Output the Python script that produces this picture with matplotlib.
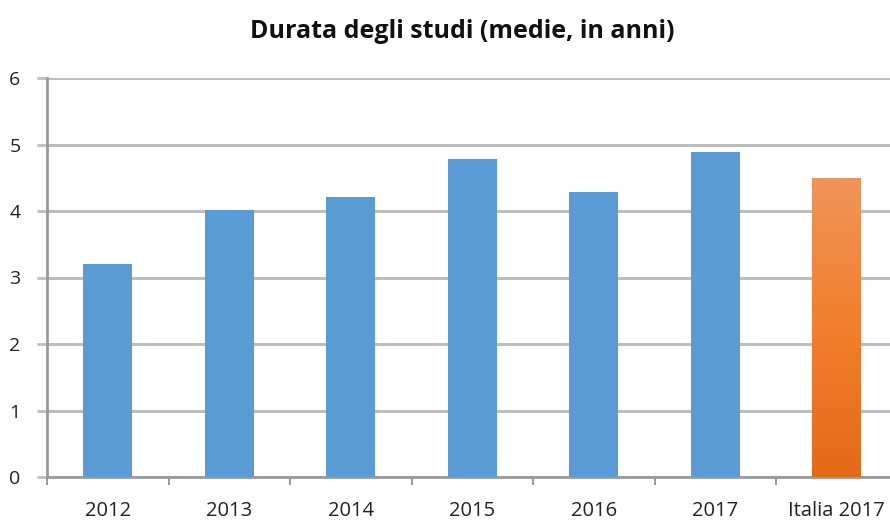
import numpy as np
import matplotlib.pyplot as plt
from matplotlib.colors import LinearSegmentedColormap

# data
categories = ["2012", "2013", "2014", "2015", "2016", "2017", "Italia 2017"]
values = [3.2, 4.01, 4.21, 4.78, 4.28, 4.88, 4.5]
bar_colors = ["#5B9BD5"] * 6 + ["#F07D2A"]
y_ticks = [0, 1, 2, 3, 4, 5, 6]

plt.rcParams['font.family'] = ['Open Sans', 'DejaVu Sans']

fig = plt.figure(figsize=(8.9, 5.2), dpi=100)
ax = fig.add_axes([47 / 890, 1 - 477 / 520, 850.5 / 890, (477 - 78) / 520])

x = np.arange(len(categories))
bars = ax.bar(x, values, width=0.4, color=bar_colors, zorder=3)

# orange bar gets a vertical gradient
orange = LinearSegmentedColormap.from_list("og", ["#E36A17", "#F27F2C", "#F0945A"])
last = bars[-1]
grad = np.linspace(0, 1, 256).reshape(-1, 1)
x0, w = last.get_x(), last.get_width()
im = ax.imshow(grad, cmap=orange, origin='lower', aspect='auto',
               extent=[x0, x0 + w, 0, values[-1]], zorder=4)
im.set_clip_path(last)

ax.set_xlim(-0.5, len(categories) - 0.5)
ax.set_ylim(0, 6)
ax.set_yticks(y_ticks)
ax.set_yticklabels([str(t) for t in y_ticks], fontsize=14, color="#222222")

# category labels centered, tick marks at boundaries
ax.set_xticks(x)
ax.set_xticklabels(categories, fontsize=14.5, color="#222222")
ax.tick_params(axis='x', length=0, pad=17)
ax.set_xticks(np.arange(len(categories) + 1) - 0.5, minor=True)
ax.tick_params(axis='x', which='minor', length=6, width=1.5, color="#9A9A9A", direction='out')

ax.tick_params(axis='y', length=7, width=2, color="#BDBDBD", pad=12)

ax.grid(axis='y', color="#BDBDBD", linewidth=2.2, zorder=0)
ax.set_axisbelow(True)

for side in ['top', 'right']:
    ax.spines[side].set_visible(False)
ax.spines['left'].set_color("#9A9A9A")
ax.spines['left'].set_linewidth(2)
ax.spines['bottom'].set_color("#9A9A9A")
ax.spines['bottom'].set_linewidth(2)

fig.text(462 / 890, 1 - 32 / 520, "Durata degli studi (medie, in anni)", ha='center', va='center',
         fontsize=18, fontweight='bold', color="#111111")

fig.savefig("out.png", dpi=100)
